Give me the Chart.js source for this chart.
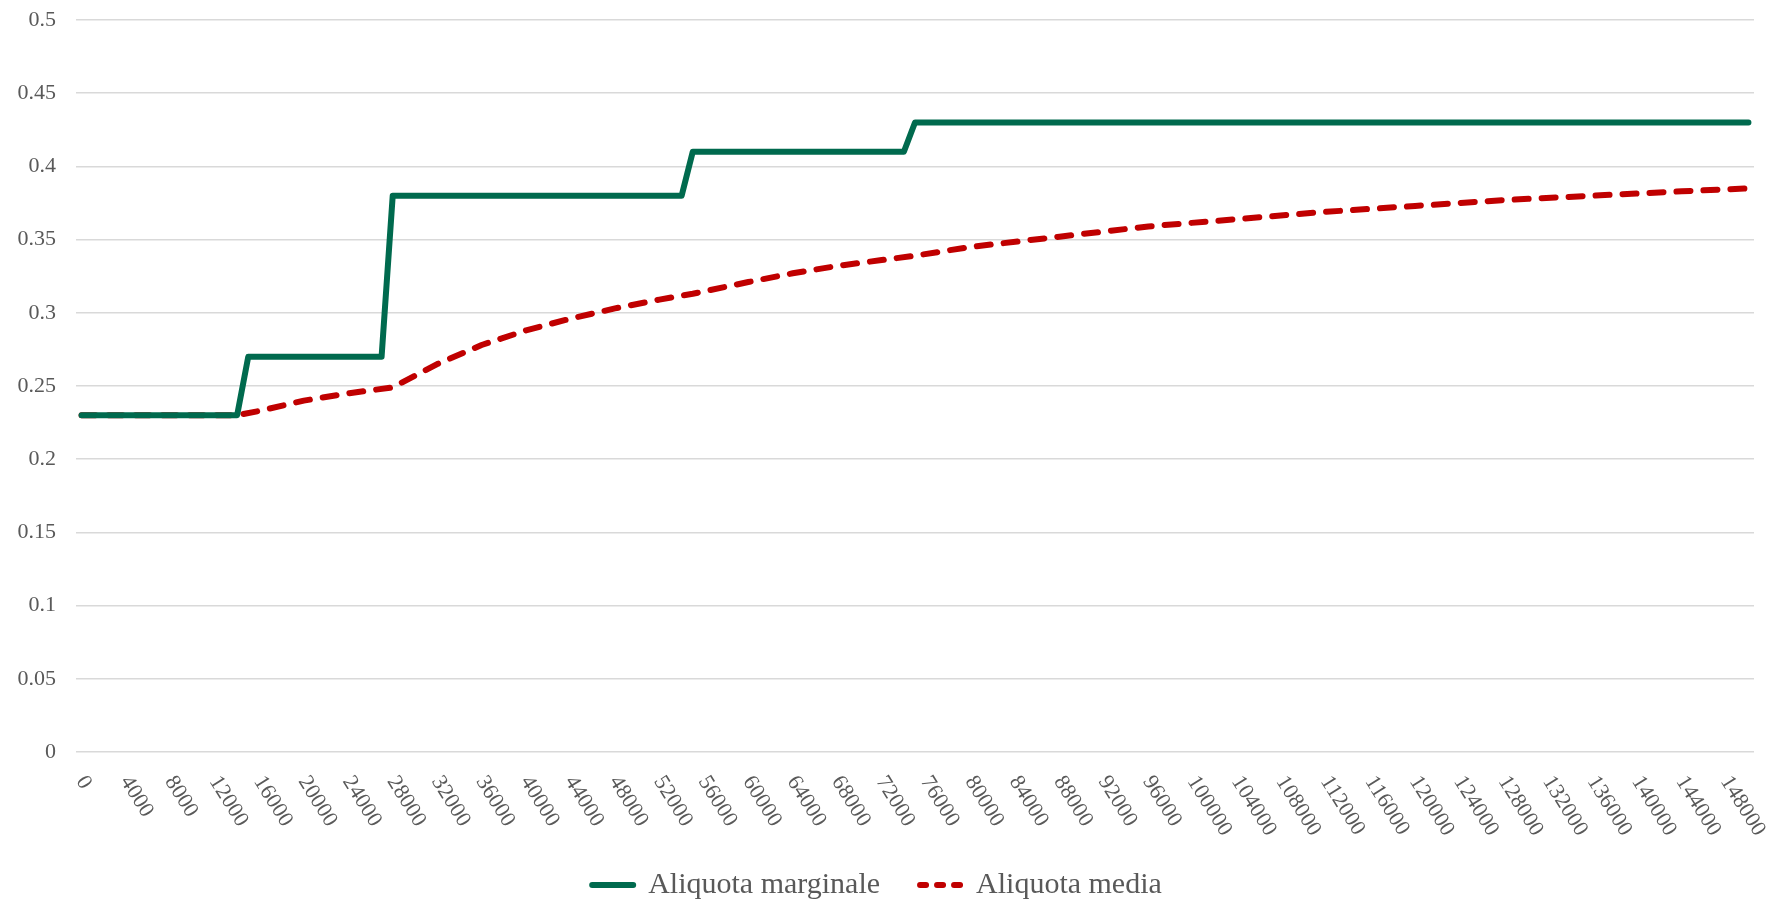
<!DOCTYPE html>
<html>
<head>
<meta charset="utf-8">
<script src="https://cdn.jsdelivr.net/npm/chart.js@4"></script>
<style>
html, body { margin: 0; padding: 0; background: #fff; }
#wrap { width: 1769px; height: 910px; }
</style>
</head>
<body>
<div id="wrap"><canvas id="chart"></canvas></div>
<script>
// aliquota marginale: punti di svolta (reddito, aliquota)
const margX = [0, 14000, 15000, 27000, 28000, 54000, 55000, 74000, 75000, 150000];
const margY = [0.23, 0.23, 0.27, 0.27, 0.38, 0.38, 0.41, 0.41, 0.43, 0.43];

// aliquota media
const mediaX = [0, 14000, 16000, 20000, 24000, 28000, 32000, 36000, 40000, 44000, 48000, 52000, 55000,
  60000, 64000, 68000, 72000, 75000, 80000, 88000, 96000, 104000, 112000, 120000, 128000, 136000, 144000, 150000];
const mediaY = [0.23, 0.23, 0.233, 0.24, 0.245, 0.249, 0.265, 0.278, 0.288, 0.296, 0.303, 0.309, 0.313,
  0.321, 0.327, 0.332, 0.336, 0.339, 0.345, 0.352, 0.359, 0.364, 0.369, 0.373, 0.377, 0.380, 0.383, 0.385];

const xTicks = [0, 4000, 8000, 12000, 16000, 20000, 24000, 28000, 32000, 36000, 40000, 44000, 48000,
  52000, 56000, 60000, 64000, 68000, 72000, 76000, 80000, 84000, 88000, 92000, 96000, 100000, 104000,
  108000, 112000, 116000, 120000, 124000, 128000, 132000, 136000, 140000, 144000, 148000];

const labelFont = '"Liberation Serif", "DejaVu Serif", serif';
const textColor = '#595959';

// etichette dell'asse x ruotate in senso orario
const xLabels = {
  id: 'xLabels',
  afterDraw(chart) {
    const { ctx, chartArea } = chart;
    const x = chart.scales.x;
    ctx.save();
    ctx.font = '22px ' + labelFont;
    ctx.fillStyle = textColor;
    ctx.textAlign = 'left';
    ctx.textBaseline = 'middle';
    xTicks.forEach(v => {
      ctx.save();
      ctx.translate(x.getPixelForValue(v) - 1, chartArea.bottom + 26);
      ctx.rotate(58 * Math.PI / 180);
      ctx.fillText(String(v), 0, 0);
      ctx.restore();
    });
    ctx.restore();
  }
};

new Chart(document.getElementById('chart'), {
  type: 'line',
  data: {
    datasets: [{
      label: 'Aliquota marginale',
      data: margX.map((v, i) => ({ x: v, y: margY[i] })),
      borderColor: '#006A4E',
      backgroundColor: '#006A4E',
      borderWidth: 6,
      borderCapStyle: 'round',
      borderJoinStyle: 'round',
      pointRadius: 0,
      tension: 0
    }, {
      label: 'Aliquota media',
      data: mediaX.map((v, i) => ({ x: v, y: mediaY[i] })),
      borderColor: '#C00000',
      backgroundColor: '#C00000',
      borderWidth: 6,
      borderDash: [14, 13],
      borderCapStyle: 'round',
      borderJoinStyle: 'round',
      pointRadius: 0,
      tension: 0
    }]
  },
  plugins: [xLabels],
  options: {
    responsive: true,
    maintainAspectRatio: false,
    animation: false,
    layout: { padding: { top: 20, right: 15, left: 0, bottom: 0 } },
    scales: {
      x: {
        type: 'linear',
        min: -500,
        max: 150500,
        ticks: { display: false },
        grid: { display: false },
        border: { display: false },
        afterFit(s) { s.height = 78; s.paddingLeft = 0; s.paddingRight = 0; }
      },
      y: {
        min: 0,
        max: 0.5,
        ticks: {
          stepSize: 0.05,
          padding: 20,
          color: textColor,
          font: { family: labelFont, size: 22 },
          callback: v => String(Number(v.toFixed(2)))
        },
        grid: { color: '#d9d9d9', lineWidth: 1.5, drawTicks: false },
        border: { display: false },
        afterFit(s) { s.width = 76; s.paddingTop = 0; s.paddingBottom = 0; }
      }
    },
    plugins: {
      legend: {
        position: 'bottom',
        labels: {
          usePointStyle: true,
          pointStyle: 'line',
          pointStyleWidth: 41,
          padding: 40,
          color: textColor,
          font: { family: labelFont, size: 30, lineHeight: 1 },
          generateLabels(chart) {
            const items = Chart.defaults.plugins.legend.labels.generateLabels(chart);
            items.forEach(it => {
              const ds = chart.data.datasets[it.datasetIndex];
              it.lineWidth = 6;
              it.lineCap = 'round';
              it.lineDash = ds.borderDash ? [6, 11] : [];
            });
            return items;
          }
        }
      },
      tooltip: { enabled: false }
    }
  }
});
</script>
</body>
</html>
